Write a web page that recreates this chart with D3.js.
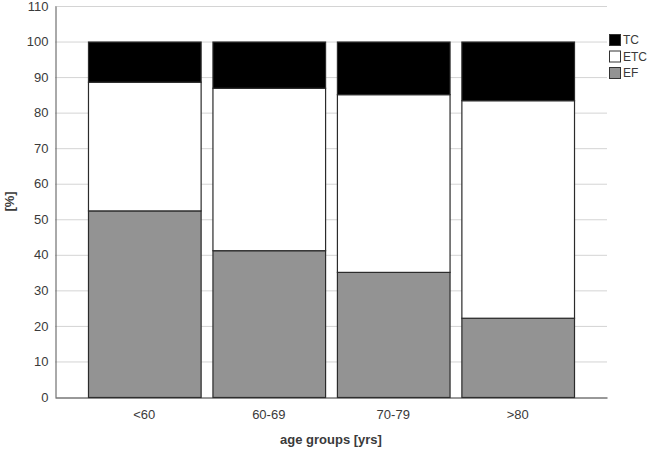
<!DOCTYPE html>
<html><head><meta charset="utf-8">
<script src="https://cdn.jsdelivr.net/npm/d3@7"></script>
<style>body{margin:0;background:#fff}svg{display:block}text{font-family:"Liberation Sans",Arial,sans-serif}</style>
</head><body><svg id="c" width="649" height="454"></svg>
<script>
const categories = ["<60", "60-69", "70-79", ">80"];
const EF  = [52.5, 41.3, 35.2, 22.3];
const ETC = [36.2, 45.7, 50.0, 61.2];
const TC  = [11.3, 13.0, 14.8, 16.5];
const seriesNames = ["EF", "ETC", "TC"];
const seriesColors = {EF: "#939393", ETC: "#ffffff", TC: "#000000"};
const yTicks = [0,10,20,30,40,50,60,70,80,90,100,110];

const svg = d3.select("#c");
const L = 55, R = 607, T = 6, B = 397;
const x = d3.scaleBand().domain(categories).range([L, R]).paddingInner(0.095).paddingOuter(0.265);
const y = d3.scaleLinear().domain([0, 110]).range([B, T]);

// gridlines
svg.append("g").selectAll("line").data(yTicks.filter(d => d > 0)).join("line")
  .attr("x1", L).attr("x2", R).attr("y1", d => y(d) + 0.5).attr("y2", d => y(d) + 0.5)
  .attr("stroke", "#d4d4d4").attr("stroke-width", 1);

const rows = categories.map((c, i) => ({cat: c, EF: EF[i], ETC: ETC[i], TC: TC[i]}));
const stack = d3.stack().keys(seriesNames)(rows);
svg.append("g").selectAll("g").data(stack).join("g")
  .attr("fill", d => seriesColors[d.key])
  .selectAll("rect").data(d => d).join("rect")
  .attr("x", d => x(d.data.cat) + 0.5)
  .attr("width", x.bandwidth())
  .attr("y", d => y(d[1]) + 0.5)
  .attr("height", d => y(d[0]) - y(d[1]))
  .attr("stroke", "#2b2b2b").attr("stroke-width", 1.2);

// axes
const yAxis = svg.append("g").attr("transform", `translate(${L + 0.5},0)`)
  .call(d3.axisLeft(y).tickValues(yTicks).tickSize(0).tickPadding(7));
yAxis.select(".domain").attr("stroke", "#555");
yAxis.selectAll("text").attr("font-size", 13).attr("fill", "#3a3a3a");

const xAxis = svg.append("g").attr("transform", `translate(0,${B + 0.5})`)
  .call(d3.axisBottom(x).tickSize(0).tickPadding(12));
xAxis.select(".domain").attr("stroke", "#333");
xAxis.selectAll("text").attr("font-size", 13).attr("fill", "#3a3a3a");

svg.append("text").attr("x", (L + R) / 2).attr("y", 444).attr("text-anchor", "middle")
  .attr("font-size", 13).attr("font-weight", "bold").attr("fill", "#3a3a3a").text("age groups [yrs]");
svg.append("text").attr("transform", `translate(14,${(T + B) / 2}) rotate(-90)`).attr("text-anchor", "middle")
  .attr("font-size", 13).attr("font-weight", "bold").attr("fill", "#3a3a3a").text("[%]");

// legend
const legendKeys = ["TC", "ETC", "EF"];
const lg = svg.append("g").attr("transform", "translate(609,34)");
const li = lg.selectAll("g").data(legendKeys).join("g").attr("transform", (d, i) => `translate(0,${i * 16.5})`);
li.append("rect").attr("x", 0.5).attr("y", 0.5).attr("width", 11).attr("height", 11)
  .attr("fill", d => seriesColors[d]).attr("stroke", "#333");
li.append("text").attr("x", 14).attr("y", 10).attr("font-size", 12).attr("fill", "#3a3a3a").text(d => d);
</script></body></html>
